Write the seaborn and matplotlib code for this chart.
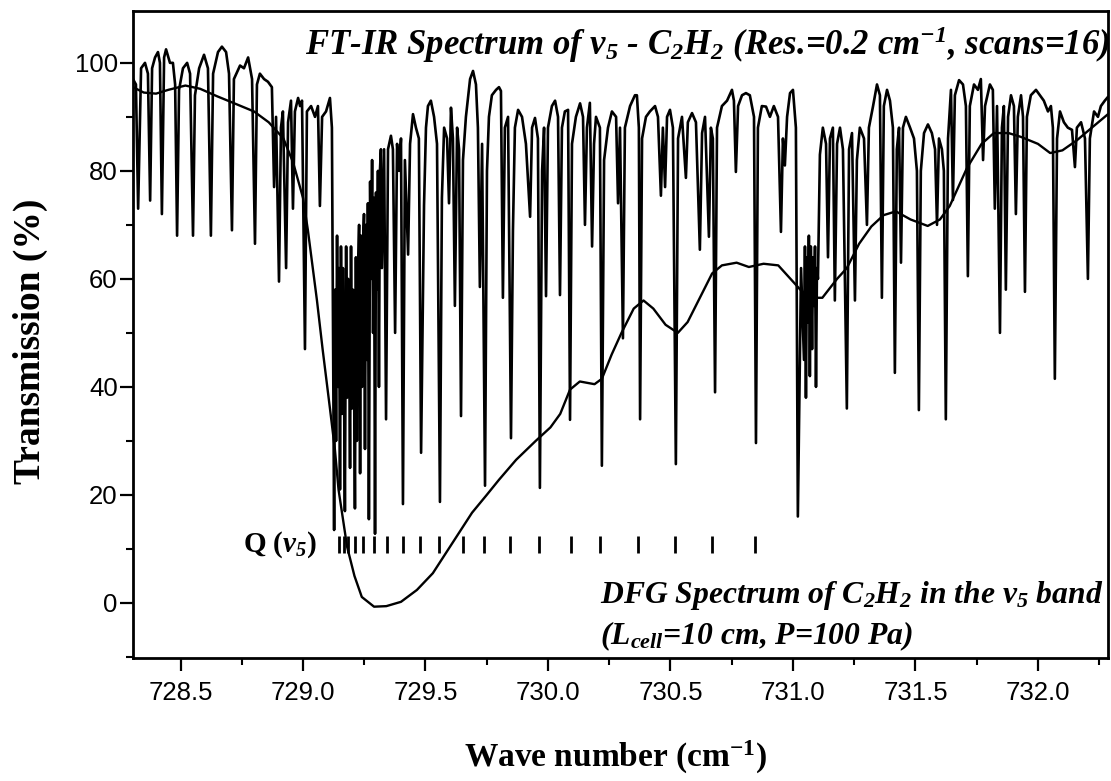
import matplotlib
matplotlib.use("Agg")
import matplotlib.pyplot as plt
import seaborn as sns
from matplotlib.ticker import MultipleLocator

# ---------------- data ----------------
# FT-IR transmission trace (vertices of the recorded spectrum)
ft_x = [728.306, 728.318, 728.327, 728.339, 728.355, 728.367, 728.376, 728.384, 728.396, 728.408,
        728.416, 728.424, 728.433, 728.441, 728.457, 728.469, 728.478, 728.486, 728.494, 728.510,
        728.527, 728.539, 728.551, 728.559, 728.576, 728.596, 728.612, 728.624, 728.633, 728.653,
        728.669, 728.686, 728.698, 728.710, 728.718, 728.743, 728.759, 728.776, 728.792, 728.804,
        728.812, 728.824, 728.841, 728.857, 728.873, 728.882, 728.890, 728.902, 728.910, 728.918,
        728.931, 728.939, 728.951, 728.959, 728.967, 728.980, 728.988,
        728.996, 729.008, 729.016, 729.033, 729.049, 729.061, 729.069, 729.078, 729.094, 729.110,
        729.118, 729.127, 729.131, 729.135, 729.139, 729.143, 729.147, 729.151, 729.155, 729.159,
        729.163, 729.167, 729.171, 729.176, 729.180, 729.184, 729.188, 729.192, 729.196, 729.200,
        729.204, 729.208, 729.212, 729.216, 729.220, 729.225, 729.229, 729.233, 729.237, 729.241,
        729.245, 729.249, 729.253, 729.257, 729.261, 729.265, 729.269, 729.274, 729.278, 729.282,
        729.286, 729.290, 729.294, 729.298, 729.302, 729.306, 729.310, 729.314, 729.318, 729.322,
        729.331, 729.339,
        729.347, 729.359, 729.367, 729.376, 729.384, 729.392, 729.400, 729.408, 729.416, 729.429,
        729.437, 729.449, 729.461, 729.473, 729.482, 729.494, 729.502, 729.510, 729.522, 729.535,
        729.547, 729.559, 729.567, 729.576, 729.588, 729.596, 729.604, 729.612, 729.620, 729.629,
        729.637, 729.645, 729.653, 729.665, 729.682, 729.694, 729.706, 729.714, 729.722, 729.731,
        729.743, 729.751, 729.759, 729.771, 729.788, 729.800, 729.808, 729.816, 729.824, 729.837,
        729.849, 729.857, 729.865, 729.878, 729.894, 729.910, 729.927, 729.935, 729.947, 729.959,
        729.967, 729.976, 729.984, 729.992, 730.000, 730.016, 730.029, 730.041, 730.049, 730.057,
        730.069, 730.082, 730.090, 730.098, 730.114, 730.131, 730.143, 730.151, 730.159, 730.171,
        730.180, 730.188, 730.196, 730.212, 730.220, 730.229, 730.245, 730.261, 730.278, 730.286,
        730.294, 730.306, 730.314, 730.335, 730.355, 730.363, 730.371, 730.376, 730.384, 730.400,
        730.416, 730.437, 730.449, 730.461, 730.469, 730.478, 730.486, 730.498, 730.510, 730.522,
        730.531, 730.547, 730.563, 730.571, 730.588, 730.604, 730.620, 730.629, 730.641, 730.657,
        730.665, 730.673, 730.682, 730.690, 730.710, 730.731, 730.751, 730.759, 730.767, 730.776,
        730.792, 730.808, 730.824, 730.841, 730.849, 730.857, 730.873, 730.890, 730.906, 730.922,
        730.939, 730.951, 730.959, 730.967, 730.976, 730.988,
        731.000, 731.012, 731.020, 731.033, 731.045, 731.049, 731.053, 731.057, 731.061, 731.065,
        731.069, 731.073, 731.078, 731.082, 731.086, 731.090, 731.094, 731.098, 731.102, 731.110,
        731.122, 731.135, 731.143, 731.151, 731.163, 731.171, 731.180,
        731.192, 731.204, 731.212, 731.220, 731.229, 731.241, 731.253, 731.261, 731.273, 731.290,
        731.302, 731.310, 731.327, 731.343, 731.355, 731.363, 731.371, 731.384, 731.396, 731.408,
        731.416, 731.424, 731.433, 731.441, 731.449, 731.461, 731.478, 731.494, 731.506, 731.514,
        731.522, 731.535, 731.551, 731.567, 731.580, 731.588, 731.596, 731.608, 731.616, 731.624,
        731.633, 731.645, 731.653, 731.661, 731.678, 731.694, 731.706, 731.714, 731.722, 731.739,
        731.755, 731.767, 731.776, 731.784, 731.804, 731.816, 731.824, 731.833, 731.845, 731.853,
        731.861, 731.869, 731.878, 731.890, 731.902, 731.910, 731.918, 731.931, 731.939, 731.947,
        731.955, 731.971, 731.992, 732.008, 732.024, 732.041, 732.053, 732.061, 732.069, 732.078,
        732.090, 732.106, 732.122, 732.139, 732.151, 732.159, 732.176, 732.192, 732.204, 732.212,
        732.229, 732.245, 732.257, 732.273, 732.286]
ft_y = [97, 96, 73, 99, 100, 98, 74.5, 99, 101, 102,
        100, 72, 101, 102.5, 100, 100, 96, 68, 95, 99,
        100, 98, 68, 94, 99, 101.5, 99, 68, 98, 102,
        103, 102, 98, 69, 97, 99.5, 99, 101, 97, 66.5,
        96, 98, 97, 96.5, 95.5, 77, 90, 59.5, 88, 91,
        62, 89, 93, 73, 91, 93.5, 92,
        93, 47, 91, 92, 90, 92, 73.5, 90, 91, 93.5,
        88, 13.5, 58, 30, 68, 40, 62, 21, 66, 35,
        62, 44, 17, 66, 38, 60, 50, 25, 66, 36,
        58, 45, 17.5, 64, 30, 62, 70, 24, 68, 40,
        66, 72, 28.5, 70, 45, 74, 15.5, 78, 60, 82,
        50, 75, 12.8, 76, 58, 80, 40, 80, 84, 62,
        84, 34,
        84, 86.5, 84, 50, 85, 80, 86, 18.3, 82, 64.5,
        85, 90.5, 88, 86, 27.8, 73.6, 88, 92, 93, 90,
        85, 18.7, 75, 88, 86, 74, 91.7, 86, 55, 88,
        84, 34.6, 82, 90, 97, 98.5, 96, 88, 58.5, 85,
        21.7, 80, 90, 94, 95, 95.5, 94.8, 56.5, 88, 90,
        30.5, 69, 88, 91.3, 90, 85, 71.5, 88, 89.8, 86,
        21.3, 80, 88, 56.8, 88, 92, 93, 90, 57, 88,
        91, 91.3, 33.9, 85, 90, 92.5, 90, 70, 88, 92.6,
        66, 85, 90, 88, 25.4, 82, 88, 91, 90, 74,
        88, 49, 88, 92, 94, 94, 88, 34, 86, 90,
        91, 92, 90, 75.4, 88, 77, 90, 91.3, 88, 25.7,
        86, 90, 78.7, 89, 90.7, 89, 65.4, 87, 90, 67.8,
        88, 86, 39, 88, 92, 93, 95, 93, 79.8, 92,
        94, 94.4, 94, 90, 29.6, 88, 92, 91.9, 90, 92,
        90, 68.7, 86, 81, 90, 94.4,
        95, 88, 16, 62, 45, 66, 38, 64, 52, 68,
        42, 66, 47, 64, 55, 66, 40, 62, 60, 83,
        88, 85, 64, 86, 88, 56, 85,
        88, 84, 60, 36, 84, 87, 56, 82, 88, 86,
        70, 88, 92, 96, 94, 56.5, 92, 95, 93, 88,
        42.6, 84, 88, 63, 88, 90, 88, 86, 80, 35.7,
        80, 87, 88.6, 87, 84, 70, 86, 84, 80, 34,
        86, 95, 74.6, 94, 96.8, 96, 92, 60.5, 92, 96,
        95, 97, 82, 92, 96, 95, 73, 92, 50, 88,
        92, 58, 90, 94, 92, 72, 90, 94, 90, 57.6,
        90, 94, 95, 94, 93, 91, 92, 88, 41.5, 86,
        91, 89, 88, 87.6, 80.7, 88, 89, 86, 60, 86,
        91, 90, 92, 93, 93.7]

# DFG spectrum (smooth curve)
dfg_x = [728.306, 728.35, 728.40, 728.45, 728.52, 728.58, 728.65, 728.72, 728.80, 728.86,
         728.92, 728.96, 729.00, 729.02, 729.057, 729.08, 729.11, 729.13, 729.145, 729.18,
         729.21, 729.24, 729.29, 729.34, 729.40, 729.465, 729.53, 729.61, 729.69, 729.75,
         729.80, 729.87, 729.95, 730.01, 730.05, 730.09, 730.13, 730.19, 730.22, 730.26,
         730.30, 730.35, 730.39, 730.43, 730.48, 730.53, 730.57, 730.62, 730.67, 730.71,
         730.77, 730.82, 730.88, 730.94, 730.98, 731.03, 731.07, 731.12, 731.18, 731.22,
         731.27, 731.32, 731.37, 731.42, 731.48, 731.55, 731.60, 731.64, 731.71, 731.77,
         731.82, 731.88, 731.93, 732.00, 732.05, 732.10, 732.16, 732.22, 732.286]
dfg_y = [95.5, 94.5, 94.3, 95.0, 95.8, 95.2, 93.8, 92.5, 91.0, 89.0,
         86.0, 81.5, 75.0, 69.0, 56.0, 47.0, 36.0, 28.5, 21.0, 10.4,
         5.0, 1.1, -0.7, -0.6, 0.2, 2.4, 5.5, 11.1, 16.7, 20.0,
         22.8, 26.5, 30.0, 32.5, 35.0, 39.5, 41.0, 40.5, 41.5, 46.0,
         50.0, 54.5, 56.0, 54.5, 51.5, 50.0, 52.0, 56.5, 61.0, 62.5,
         63.0, 62.2, 62.8, 62.5, 60.5, 58.0, 56.5, 56.5, 60.0, 62.0,
         66.5, 69.7, 71.8, 72.5, 71.0, 69.8, 71.0, 73.5, 80.5, 85.0,
         87.0, 87.0, 86.3, 85.0, 83.3, 83.8, 85.7, 88.0, 90.5]

# Q-branch line markers
q_pos = [729.147, 729.167, 729.184, 729.212, 729.245, 729.290, 729.343, 729.408, 729.478, 729.555,
         729.653, 729.739, 729.845, 729.963, 730.094, 730.212, 730.367, 730.518, 730.669, 730.845]

x_ticks = [728.5, 729.0, 729.5, 730.0, 730.5, 731.0, 731.5, 732.0]
x_tick_labels = ["728.5", "729.0", "729.5", "730.0", "730.5", "731.0", "731.5", "732.0"]
y_ticks = [0, 20, 40, 60, 80, 100]
y_tick_labels = ["0", "20", "40", "60", "80", "100"]

title_text = r"FT-IR Spectrum of $\nu_5$ - C$_2$H$_2$ (Res.=0.2 cm$^{-1}$, scans=16)"
dfg_text1 = r"DFG Spectrum of C$_2$H$_2$ in the $\nu_5$ band"
dfg_text2 = r"(L$_{cell}$=10 cm, P=100 Pa)"
q_text = r"Q ($\nu_5$)"
x_label = r"Wave number (cm$^{\mathbf{-1}}$)"
y_label = "Transmission (%)"

# ---------------- style ----------------
sns.set_style("ticks")
plt.rcParams['font.family'] = ['Liberation Serif', 'DejaVu Serif']
plt.rcParams['mathtext.fontset'] = 'custom'
plt.rcParams['mathtext.rm'] = 'Liberation Serif:bold:italic'
plt.rcParams['mathtext.it'] = 'Liberation Serif:bold:italic'
plt.rcParams['mathtext.bf'] = 'Liberation Serif:bold'
plt.rcParams['axes.linewidth'] = 2.0
for key in ['text.color', 'axes.labelcolor', 'xtick.color', 'ytick.color', 'axes.edgecolor']:
    plt.rcParams[key] = 'black'

fig = plt.figure(figsize=(11.11, 7.81), dpi=100)
fig.patch.set_facecolor('white')
ax = fig.add_axes([0.1197, 0.1575, 0.8776, 0.8284])
ax.set_facecolor('white')

sns.lineplot(x=ft_x, y=ft_y, ax=ax, color='black', linewidth=1.9,
             sort=False, estimator=None)
sns.lineplot(x=dfg_x, y=dfg_y, ax=ax, color='black', linewidth=1.7,
             sort=False, estimator=None)
ax.vlines(q_pos, 9.3, 12.3, color='black', linewidth=2.0)

ax.set_xlim(728.306, 732.286)
ax.set_ylim(-10.2, 109.6)
ax.set_xticks(x_ticks)
ax.set_xticklabels(x_tick_labels)
ax.set_yticks(y_ticks)
ax.set_yticklabels(y_tick_labels)
ax.xaxis.set_minor_locator(MultipleLocator(0.25))
ax.yaxis.set_minor_locator(MultipleLocator(10))
ax.tick_params(axis='both', which='major', direction='out', length=9.5, width=1.6,
               labelsize=18.5, color='black', labelcolor='black')
ax.tick_params(axis='x', which='major', pad=7)
ax.tick_params(axis='y', which='major', pad=1.5)
ax.tick_params(axis='both', which='minor', direction='out', length=5, width=1.5, color='black')
ax.tick_params(top=False, right=False, which='both')
for lbl in ax.get_xticklabels() + ax.get_yticklabels():
    lbl.set_fontfamily(['Liberation Sans', 'DejaVu Sans'])
for s in ax.spines.values():
    s.set_visible(True)
    s.set_linewidth(2.0)
    s.set_color('black')
ax.set_xlabel('')
ax.set_ylabel('')
ax.grid(False)

ax.text(1.002, 0.932, title_text, transform=ax.transAxes, ha='right', va='baseline',
        fontsize=25, fontweight='bold', style='italic', color='black')
ax.text(0.479, 0.085, dfg_text1, transform=ax.transAxes, ha='left', va='baseline',
        fontsize=22.8, fontweight='bold', style='italic', color='black')
ax.text(0.479, 0.021, dfg_text2, transform=ax.transAxes, ha='left', va='baseline',
        fontsize=22.8, fontweight='bold', style='italic', color='black')
ax.text(728.755, 10.7, q_text, ha='left', va='center', fontsize=21, fontweight='bold',
        color='black')

fig.text(30 / 1111, 1 - 341 / 781, y_label, rotation=90, ha='center', va='center',
         fontsize=27, fontweight='bold', color='black')
fig.text(615 / 1111, 1 - 757 / 781, x_label, ha='center', va='center',
         fontsize=24, fontweight='bold', color='black')

fig.savefig('out.png', dpi=100, facecolor='white')
